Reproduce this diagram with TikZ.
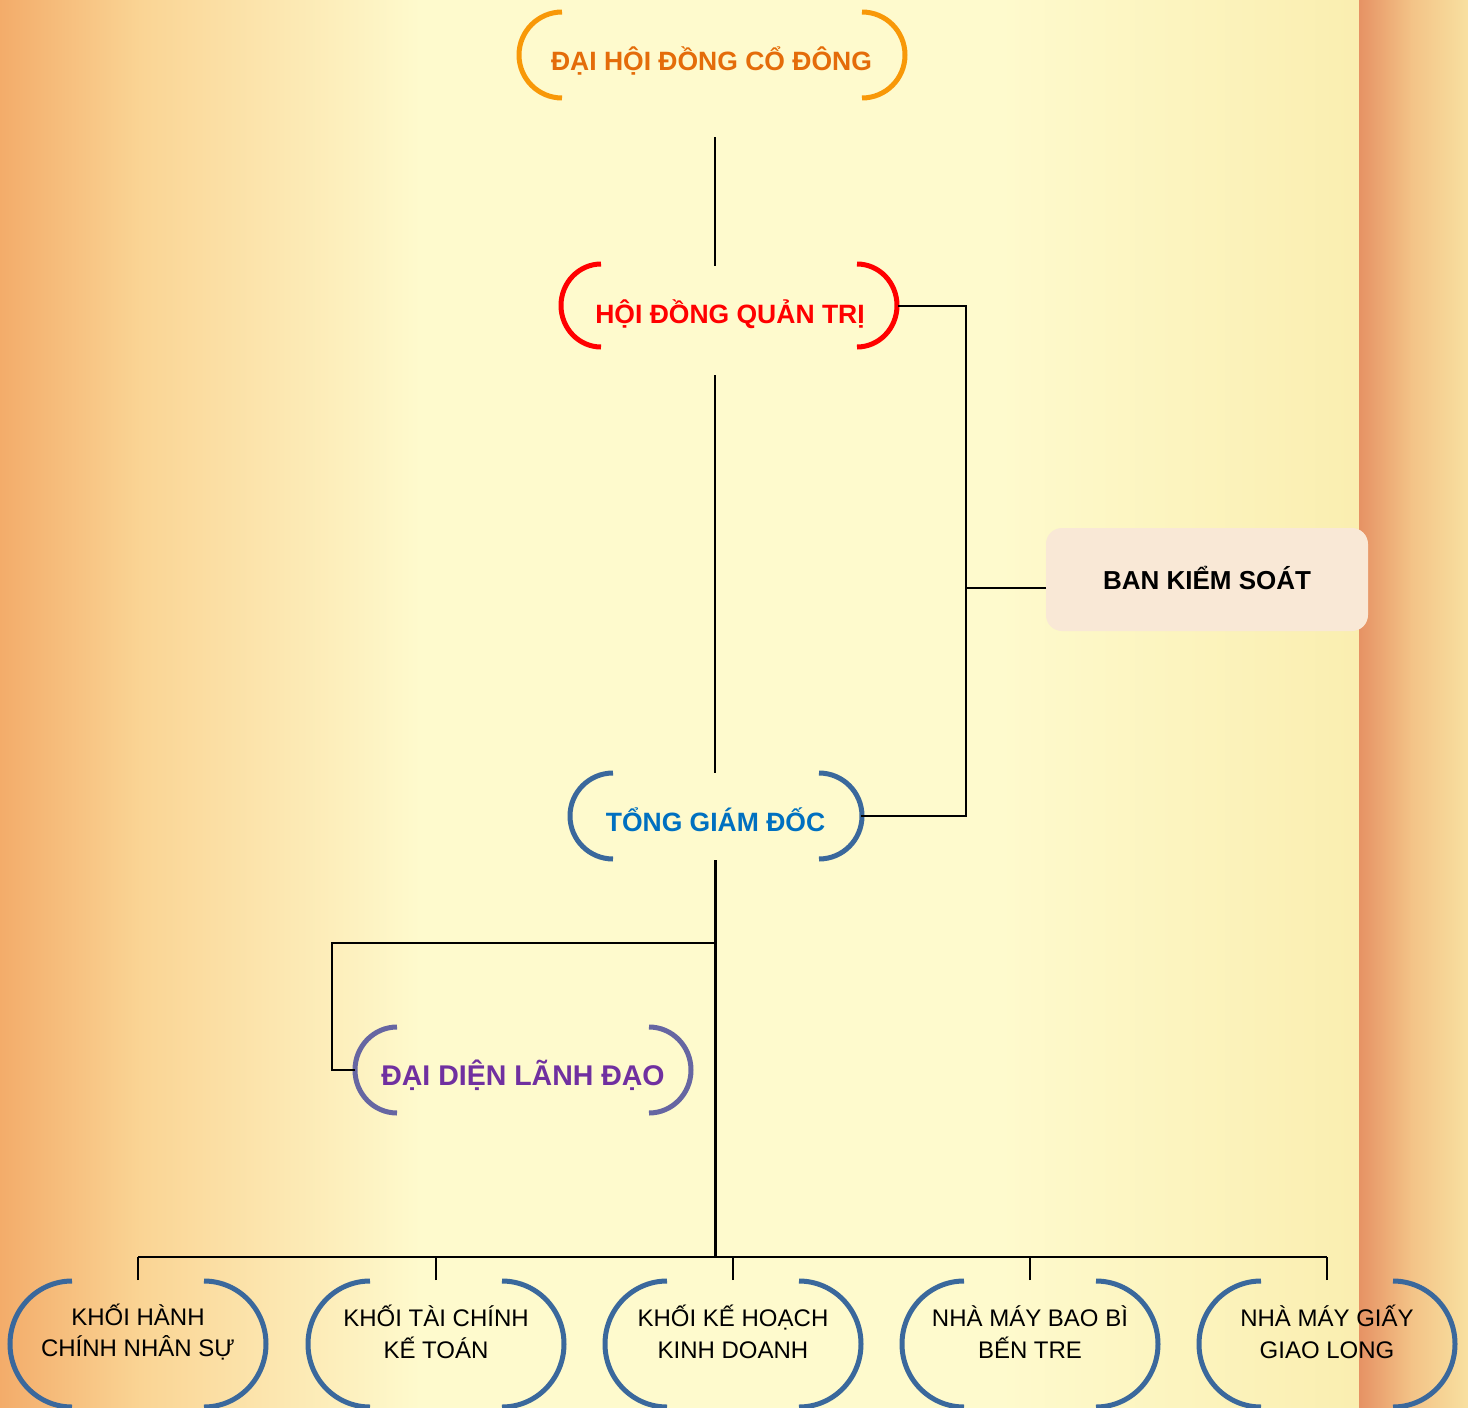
\documentclass[tikz,border=0pt]{standalone}
\usepackage{fontspec}
\setmainfont{Liberation Sans}
\definecolor{bgbase}{RGB}{254,250,205}
\definecolor{bgorange}{RGB}{243,172,106}
\definecolor{bgmid}{RGB}{250,212,148}
\definecolor{bgright}{RGB}{250,238,176}
\definecolor{bandA}{RGB}{230,146,100}
\definecolor{bandB}{RGB}{243,195,135}
\definecolor{bgfar}{RGB}{248,224,160}
\definecolor{orangetxt}{RGB}{228,108,10}
\definecolor{orangebrk}{RGB}{248,152,8}
\definecolor{redc}{RGB}{255,0,0}
\definecolor{bluetxt}{RGB}{0,112,192}
\definecolor{bluebrk}{RGB}{58,104,156}
\definecolor{purptxt}{RGB}{112,48,160}
\definecolor{purpbrk}{RGB}{102,102,162}
\definecolor{bksfill}{RGB}{249,232,214}
\newcommand\brkpair[6]{%
  \draw[brk,#6] (#1-#3,-#2+#5) arc[start angle=90,end angle=270,x radius=#4,y radius=#5];
  \draw[brk,#6] (#1+#3,-#2+#5) arc[start angle=90,end angle=-90,x radius=#4,y radius=#5];}
\begin{document}
\begin{tikzpicture}[x=1pt,y=1pt,
  brk/.style={line width=5pt},
  conn/.style={draw=black,line width=2pt},
  mainconn/.style={draw=black,line width=3pt},
  headtxt/.style={inner sep=0pt,anchor=base,font=\bfseries\fontsize{26.5}{32}\selectfont},
  unittxt/.style={inner sep=0pt,align=center,font=\fontsize{24}{31.5}\selectfont,text=black}]
\useasboundingbox (0,0) rectangle (1468,-1408);
% background
\fill[bgbase] (0,0) rectangle (1468,-1408);
\shade[left color=bgorange,right color=bgmid] (0,0) rectangle (140,-1408);
\shade[left color=bgmid,right color=bgbase] (139.5,0) rectangle (420,-1408);
\shade[left color=bgbase,right color=bgright] (1000,0) rectangle (1359,-1408);
\shade[left color=bandA,right color=bandB] (1359,0) rectangle (1412,-1408);
\shade[left color=bandB,right color=bgfar] (1411.5,0) rectangle (1468,-1408);

% head nodes
\node[headtxt,text=orangetxt] (dh) at (711.5,-70) {ĐẠI HỘI ĐỒNG CỔ ĐÔNG};
\node[headtxt,text=redc] (hd) at (730,-323) {HỘI ĐỒNG QUẢN TRỊ};
\node[headtxt,text=bluetxt] (tg) at (715.5,-831) {TỔNG GIÁM ĐỐC};
\node[headtxt,text=purptxt,font=\bfseries\fontsize{28.5}{34}\selectfont] (dl) at (523,-1085) {ĐẠI DIỆN LÃNH ĐẠO};
\node[draw=none,fill=bksfill,rounded corners=16pt,minimum width=322pt,minimum height=103pt,
      font=\bfseries\fontsize{26}{32}\selectfont,text=black] (bks) at (1207,-579.5) {\raisebox{3.5pt}{BAN KIỂM SOÁT}};

% brackets
\brkpair{712}{55}{150}{43}{43}{orangebrk}
\brkpair{729}{305.5}{128}{40}{41.5}{redc}
\brkpair{716}{816}{103}{43}{43}{bluebrk}
\brkpair{523}{1070}{126}{42}{43}{purpbrk}

% bottom units
\node[unittxt] (u1) at (138,-1332) {KHỐI HÀNH\\CHÍNH NHÂN SỰ};
\node[unittxt] (u2) at (436,-1332) {KHỐI TÀI CHÍNH\\KẾ TOÁN};
\node[unittxt] (u3) at (733,-1332) {KHỐI KẾ HOẠCH\\KINH DOANH};
\node[unittxt] (u4) at (1030,-1332) {NHÀ MÁY BAO BÌ\\BẾN TRE};
\node[unittxt] (u5) at (1327,-1332) {NHÀ MÁY GIẤY\\GIAO LONG};
\foreach \cx in {138,436,733,1030,1327}{\brkpair{\cx}{1344}{66}{62}{63}{bluebrk}}

% connector end points
\coordinate (dhS) at (715,-137);
\coordinate (hdN) at (715,-266);
\coordinate (hdS) at (715,-375);
\coordinate (hdE) at (898,-306);
\coordinate (tgN) at (715,-773);
\coordinate (tgS) at (715,-860);
\coordinate (tgE) at (861,-816);
\coordinate (rail) at (966,-816);
\coordinate (bksIn) at (1046,-588);
\coordinate (tap) at (715,-943);
\coordinate (dlCorner) at (332,-1070);
\coordinate (dlW) at (355,-1070);
\coordinate (bus) at (715,-1257);
\coordinate (u1T) at (138,-1280);
\coordinate (u2T) at (436,-1280);
\coordinate (u3T) at (733,-1280);
\coordinate (u4T) at (1030,-1280);
\coordinate (u5T) at (1327,-1280);

% connectors
\draw[conn] (dhS) -- (hdN);
\draw[conn] (hdS) -- (tgN);
\draw[conn] (hdE) -| (rail) -- (tgE);
\draw[conn] (bksIn) -- (bksIn -| rail);
\draw[mainconn] (tgS) -- ([yshift=-1pt]bus);
\draw[conn] (tap) -| (dlCorner) -- (dlW);
\draw[conn] (u1T |- bus) -- (u5T |- bus);
\foreach \u in {u1T,u2T,u3T,u4T,u5T}{\draw[conn] (\u) -- (\u |- bus);}
\end{tikzpicture}
\end{document}
